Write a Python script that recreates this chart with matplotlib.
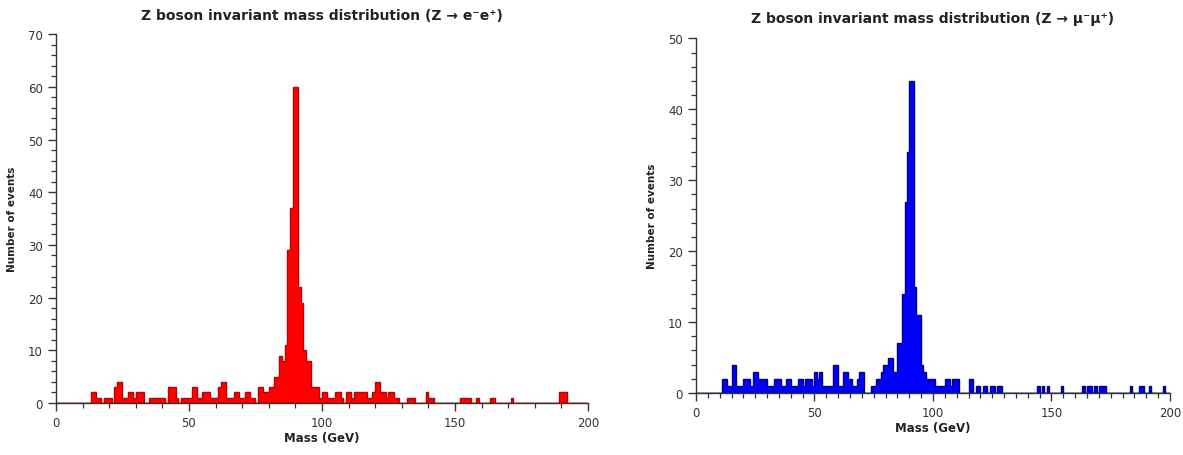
import numpy as np
import matplotlib
matplotlib.use("Agg")
import matplotlib.pyplot as plt
from matplotlib.ticker import MultipleLocator

# ---- data: event counts per 1 GeV bin, masses 0..200 GeV ----
bin_edges = list(range(0, 201))

ee_counts = [
    # 0-19
    0, 0, 0, 0, 0, 0, 0, 0, 0, 0, 0, 0, 0, 2, 2, 1, 1, 0, 1, 1,
    # 20-39
    1, 0, 3, 4, 4, 1, 1, 2, 2, 1, 2, 2, 2, 0, 0, 1, 1, 1, 1, 1,
    # 40-59
    1, 0, 3, 3, 3, 1, 0, 1, 1, 1, 1, 3, 3, 1, 1, 2, 2, 2, 1, 1,
    # 60-79
    1, 3, 4, 4, 1, 1, 1, 2, 2, 1, 1, 2, 2, 1, 1, 0, 3, 3, 2, 2,
    # 80-99
    3, 3, 5, 5, 9, 8, 11, 29, 37, 60, 60, 22, 19, 10, 8, 8, 3, 3, 3, 1,
    # 100-119
    2, 2, 1, 1, 1, 2, 2, 1, 0, 2, 2, 1, 2, 2, 2, 2, 2, 1, 1, 2,
    # 120-139
    4, 4, 2, 2, 1, 2, 2, 1, 1, 0, 0, 0, 1, 1, 1, 0, 0, 0, 0, 2,
    # 140-159
    1, 1, 0, 0, 0, 0, 0, 0, 0, 0, 0, 0, 1, 1, 1, 1, 0, 0, 1, 0,
    # 160-179
    0, 0, 0, 1, 1, 0, 0, 0, 0, 0, 0, 1, 0, 0, 0, 0, 0, 0, 0, 0,
    # 180-199
    0, 0, 0, 0, 0, 0, 0, 0, 0, 2, 2, 2, 0, 0, 0, 0, 0, 0, 0, 0,
]

mumu_counts = [
    # 0-19
    0, 0, 0, 0, 0, 0, 0, 0, 0, 0, 0, 2, 2, 1, 1, 4, 4, 1, 1, 1,
    # 20-39
    2, 2, 2, 1, 3, 3, 2, 2, 2, 2, 1, 1, 1, 2, 2, 2, 1, 1, 2, 2,
    # 40-59
    1, 1, 1, 2, 2, 1, 2, 2, 2, 1, 3, 2, 3, 1, 1, 1, 1, 1, 4, 4,
    # 60-79
    1, 1, 3, 3, 2, 2, 1, 1, 2, 3, 3, 0, 0, 0, 1, 1, 2, 2, 3, 4,
    # 80-99
    4, 5, 5, 3, 3, 7, 7, 14, 27, 34, 44, 44, 15, 11, 11, 4, 3, 2, 2, 2,
    # 100-119
    2, 1, 1, 1, 1, 2, 2, 1, 2, 2, 2, 0, 0, 0, 0, 2, 2, 0, 1, 1,
    # 120-139
    0, 1, 1, 0, 1, 1, 0, 1, 1, 0, 0, 0, 0, 0, 0, 0, 0, 0, 0, 0,
    # 140-159
    0, 0, 0, 0, 1, 0, 1, 0, 1, 0, 0, 0, 0, 0, 1, 0, 0, 0, 0, 0,
    # 160-179
    0, 0, 0, 1, 0, 1, 1, 0, 1, 0, 1, 1, 1, 0, 0, 0, 0, 0, 0, 0,
    # 180-199
    0, 0, 0, 1, 0, 0, 0, 1, 1, 0, 0, 1, 0, 0, 0, 0, 0, 1, 0, 0,
]

titles = ["Z boson invariant mass distribution (Z \u2192 e\u207be\u207a)",
          "Z boson invariant mass distribution (Z \u2192 \u03bc\u207b\u03bc\u207a)"]
x_label = "Mass (GeV)"
y_label = "Number of events"
x_ticks = [0, 50, 100, 150, 200]

plt.rcParams['font.family'] = ['DejaVu Sans']

fig = plt.figure(figsize=(11.83, 4.56), dpi=100)
fig.patch.set_facecolor("white")

ax1 = fig.add_axes([0.0473, 0.114, 0.4497, 0.809])
ax2 = fig.add_axes([0.5883, 0.136, 0.4007, 0.7774])

panels = [
    (ax1, ee_counts, "#ff0000", "#c00000", 70, 10, 2, 10, 11),
    (ax2, mumu_counts, "#0000ff", "#00008a", 50, 10, 2, 5, 12),
]

edges = np.array(bin_edges, dtype=float)
centers = 0.5 * (edges[:-1] + edges[1:])

for i, (ax, counts, fc, ec, ymax, ymaj, ymin, xmin, tpad) in enumerate(panels):
    ax.hist(centers, bins=edges, weights=np.array(counts, dtype=float),
            histtype="stepfilled", facecolor=fc, edgecolor=ec, linewidth=1.0)
    ax.set_xlim(0, 200)
    ax.set_ylim(0, ymax)
    ax.set_xticks(x_ticks)
    ax.xaxis.set_minor_locator(MultipleLocator(xmin))
    ax.yaxis.set_major_locator(MultipleLocator(ymaj))
    ax.yaxis.set_minor_locator(MultipleLocator(ymin))
    for s in ["top", "right"]:
        ax.spines[s].set_visible(False)
    for s in ["left", "bottom"]:
        ax.spines[s].set_color("#333333")
        ax.spines[s].set_linewidth(1.0)
    ax.tick_params(axis="both", which="major", direction="out", length=6,
                   width=1.0, color="#333333", labelsize=8.5, labelcolor="#333333")
    ax.tick_params(axis="both", which="minor", direction="out", length=3.5,
                   width=0.9, color="#333333")
    ax.set_xlabel(x_label, fontsize=8.5, fontweight="bold", labelpad=1, color="#222222")
    ax.set_ylabel(y_label, fontsize=7.5, fontweight="bold", labelpad=8, color="#222222")
    ax.set_title(titles[i], fontsize=10, fontweight="bold", pad=tpad, color="#222222")

fig.savefig("out.png", dpi=100, facecolor="white")
